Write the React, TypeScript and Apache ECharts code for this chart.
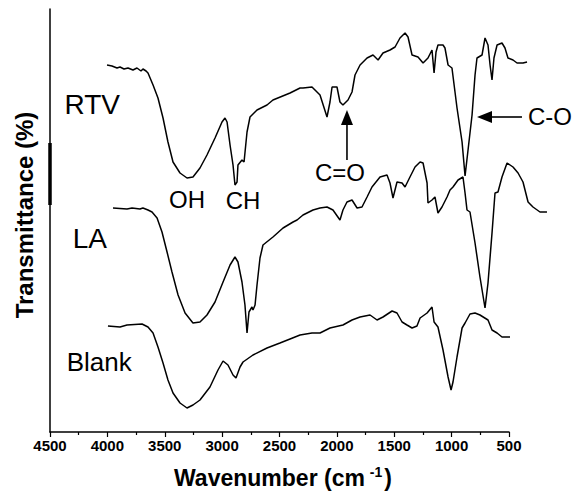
import React, { useEffect, useRef } from "react";
import * as echarts from "echarts";

// [wavenumber (cm-1), transmittance (arbitrary offset units)]
const rtv: [number, number][] = [
  [4003, 367], [3960, 366], [3916, 364], [3890, 365], [3855, 363], [3820, 364], [3777, 362],
  [3742, 364], [3707, 361], [3690, 363], [3663, 361], [3646, 359], [3602, 347], [3559, 334],
  [3515, 314], [3472, 290], [3428, 270], [3367, 259], [3306, 254], [3254, 255], [3193, 264],
  [3132, 277], [3062, 294], [3001, 310], [2975, 314], [2957, 310], [2931, 287], [2905, 267],
  [2888, 247], [2870, 250], [2862, 267], [2827, 272], [2809, 270], [2783, 300], [2757, 315],
  [2696, 322], [2609, 327], [2557, 332], [2408, 339], [2321, 344], [2295, 344], [2217, 345],
  [2147, 337], [2086, 315], [2060, 330], [2042, 345], [1999, 345], [1973, 330], [1947, 327],
  [1903, 332], [1868, 340], [1842, 357], [1798, 367], [1737, 374], [1685, 377], [1641, 372],
  [1598, 379], [1537, 382], [1493, 385], [1450, 394], [1406, 399], [1380, 395], [1345, 377],
  [1293, 375], [1249, 369], [1206, 374], [1171, 382], [1153, 359], [1136, 380], [1119, 387],
  [1075, 387], [1058, 384], [1031, 367], [997, 364], [953, 324], [909, 290], [883, 256],
  [857, 282], [822, 317], [796, 357], [779, 374], [735, 377], [709, 394], [683, 387],
  [665, 367], [648, 352], [631, 374], [604, 387], [561, 389], [535, 384], [509, 374],
  [465, 372], [430, 369], [378, 369], [343, 370],
];

const la: [number, number][] = [
  [3951, 224], [3829, 223], [3785, 224], [3716, 223], [3690, 224], [3646, 222], [3611, 220],
  [3567, 214], [3524, 200], [3480, 180], [3437, 160], [3384, 137], [3323, 119], [3254, 109],
  [3193, 110], [3132, 117], [3062, 130], [2992, 150], [2931, 167], [2888, 175], [2862, 170],
  [2827, 150], [2801, 127], [2783, 99], [2766, 120], [2740, 125], [2731, 122], [2713, 127],
  [2696, 147], [2670, 174], [2644, 187], [2557, 195], [2469, 204], [2382, 210], [2347, 212],
  [2295, 217], [2208, 222], [2147, 224], [2086, 225], [2034, 222], [1973, 212], [1947, 222],
  [1912, 230], [1868, 232], [1824, 224], [1781, 225], [1737, 235], [1694, 245], [1624, 255],
  [1563, 257], [1537, 249], [1511, 234], [1476, 250], [1432, 249], [1406, 245], [1363, 255],
  [1319, 265], [1275, 270], [1249, 269], [1214, 249], [1206, 229], [1171, 232], [1145, 235],
  [1119, 219], [1084, 225], [1040, 235], [1014, 242], [988, 245], [944, 252], [901, 255],
  [883, 239], [866, 222], [840, 220], [796, 189], [753, 155], [709, 124], [683, 149],
  [648, 199], [622, 239], [596, 240], [561, 255], [517, 269], [465, 265], [421, 259],
  [378, 250], [334, 230], [291, 225], [230, 220], [169, 220],
];

const blank: [number, number][] = [
  [3995, 106], [3890, 105], [3829, 107], [3698, 108], [3646, 105], [3602, 99], [3559, 85],
  [3515, 69], [3472, 52], [3428, 39], [3367, 29], [3306, 24], [3254, 27], [3193, 32],
  [3106, 45], [3036, 62], [2992, 71], [2949, 67], [2905, 57], [2879, 54], [2844, 65],
  [2818, 70], [2731, 77], [2609, 84], [2496, 89], [2408, 93], [2321, 97], [2217, 99],
  [2147, 99], [2060, 104], [1947, 107], [1868, 112], [1798, 115], [1711, 117], [1650, 112],
  [1598, 115], [1519, 121], [1476, 119], [1432, 110], [1389, 107], [1345, 104], [1302, 106],
  [1275, 114], [1214, 119], [1171, 125], [1153, 110], [1119, 105], [1075, 82], [1031, 55],
  [1005, 42], [988, 50], [953, 75], [909, 104], [883, 109], [840, 118], [796, 119],
  [753, 117], [683, 112], [648, 102], [604, 99], [561, 95], [491, 95],
];

// sample labels: [text, wavenumber, y, fontSize]
const sampleLabels: [string, number, number, number][] = [
  ["RTV", 4132, 328, 28],
  ["LA", 4153, 194, 28],
  ["Blank", 4071, 70, 26],
];
// band labels: [text, wavenumber, y]
const bandLabels: [string, number, number][] = [
  ["OH", 3306, 233],
  ["CH", 2818, 232],
  ["C=O", 1973, 260],
  ["C-O", 143, 316],
];
// arrows: [fromWn, fromY, tipWn, tipY]
const arrows: [number, number, number, number][] = [
  [1912, 272, 1912, 322],
  [387, 315, 779, 315],
];

const FONT = "'Liberation Sans', Arial, Helvetica, sans-serif";

export default function App() {
  const ref = useRef<HTMLDivElement>(null);
  useEffect(() => {
    if (!ref.current) return;
    const chart = echarts.init(ref.current, null, { renderer: "svg" });
    const line = (data: [number, number][]) => ({
      type: "line",
      data,
      xAxisIndex: 1,
      yAxisIndex: 1,
      showSymbol: false,
      symbol: "none",
      clip: false,
      lineStyle: { color: "#000", width: 1.5 },
      z: 3,
    });
    chart.setOption({
      animation: false,
      backgroundColor: "#fff",
      grid: [
        { left: 50, right: 74, top: 9, bottom: 60 },
        { left: 50, right: 28.1, top: 9, bottom: 60 },
      ],
      xAxis: [
        {
          type: "value",
          gridIndex: 0,
          min: 500,
          max: 4500,
          interval: 500,
          inverse: true,
          axisLine: { show: true, onZero: false, lineStyle: { color: "#000", width: 1.5 } },
          axisTick: { show: true, length: 5, lineStyle: { color: "#000", width: 1.2 } },
          minorTick: { show: true, splitNumber: 2, length: 3, lineStyle: { color: "#000", width: 1.2 } },
          axisLabel: {
            color: "#000",
            fontFamily: FONT,
            fontWeight: "bold",
            fontSize: 15,
            margin: 6,
            formatter: (v: number) => String(v),
          },
          splitLine: { show: false },
        },
        {
          type: "value",
          gridIndex: 1,
          min: 100,
          max: 4500,
          inverse: true,
          show: false,
        },
      ],
      yAxis: [
        {
          type: "value",
          gridIndex: 0,
          min: 0,
          max: 423,
          axisLine: { show: true, lineStyle: { color: "#000", width: 1.5 } },
          axisTick: { show: false },
          axisLabel: { show: false },
          splitLine: { show: false },
        },
        { type: "value", gridIndex: 1, min: 0, max: 423, show: false },
      ],
      series: [line(rtv), line(la), line(blank)],
    });

    const px = (wn: number, y: number) => chart.convertToPixel({ gridIndex: 1 }, [wn, y]) as number[];
    const graphics: any[] = [];
    // thicker segment on the y axis
    const a = px(4500, 289);
    const b = px(4500, 227);
    graphics.push({ type: "rect", shape: { x: a[0] - 1.75, y: a[1], width: 3.5, height: b[1] - a[1] }, style: { fill: "#000" }, z: 10 });
    sampleLabels.forEach(([t, wn, y, fs]) => {
      const p = px(wn, y);
      graphics.push({ type: "text", x: p[0], y: p[1], style: { text: t, font: `${fs}px ${FONT}`, fill: "#000", align: "center", verticalAlign: "middle" }, z: 10 });
    });
    bandLabels.forEach(([t, wn, y]) => {
      const p = px(wn, y);
      graphics.push({ type: "text", x: p[0], y: p[1], style: { text: t, font: `24px ${FONT}`, fill: "#000", align: "center", verticalAlign: "middle" }, z: 10 });
    });
    arrows.forEach(([fw, fy, tw, ty]) => {
      const f = px(fw, fy);
      const t = px(tw, ty);
      const dx = t[0] - f[0];
      const dy = t[1] - f[1];
      const len = Math.sqrt(dx * dx + dy * dy);
      const ux = dx / len, uy = dy / len;
      const headL = 15, headW = 6;
      const bx = t[0] - ux * headL, by = t[1] - uy * headL;
      graphics.push({ type: "line", shape: { x1: f[0], y1: f[1], x2: bx, y2: by }, style: { stroke: "#000", lineWidth: 1.6 }, z: 10 });
      graphics.push({
        type: "polygon",
        shape: { points: [[t[0], t[1]], [bx - uy * headW, by + ux * headW], [bx + uy * headW, by - ux * headW]] },
        style: { fill: "#000" },
        z: 10,
      });
    });
    // axis titles
    graphics.push({
      type: "text",
      x: 24,
      y: 215,
      rotation: Math.PI / 2,
      style: { text: "Transmittance (%)", font: `bold 24px ${FONT}`, fill: "#000", align: "center", verticalAlign: "middle" },
      z: 10,
    });
    graphics.push({
      type: "text",
      x: 283,
      y: 478,
      style: {
        text: "Wavenumber (cm{sup|-1})",
        font: `bold 23px ${FONT}`,
        fill: "#000",
        align: "center",
        verticalAlign: "middle",
        rich: { sup: { font: `bold 14px ${FONT}`, fill: "#000", padding: [0, 2, 12, 5] } },
      },
      z: 10,
    });
    chart.setOption({ graphic: graphics });
    return () => chart.dispose();
  }, []);
  return <div ref={ref} style={{ position: "fixed", left: 0, top: 0, width: 583, height: 492 }} />;
}
